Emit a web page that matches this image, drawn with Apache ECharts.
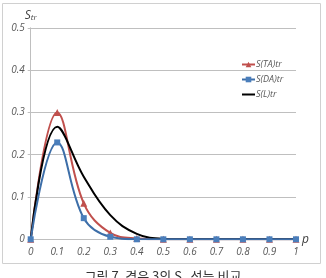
<!DOCTYPE html>
<html>
<head>
<meta charset="utf-8">
<script src="https://cdn.jsdelivr.net/npm/echarts@6/dist/echarts.min.js"></script>
<style>
  html, body { margin: 0; padding: 0; background: #fff; }
  #container { width: 326px; height: 278px; }
</style>
</head>
<body>
<div id="container"></div>
<script>
var dom = document.getElementById("container");
var myChart = echarts.init(dom);

// p values (x axis)
var pValues = [0, 0.1, 0.2, 0.3, 0.4, 0.5, 0.6, 0.7, 0.8, 0.9, 1];
var seriesNames = ["S(TA)tr", "S(DA)tr", "S(L)tr"];
var taValues = [0, 0.30, 0.085, 0.015, 0.002, 0, 0, 0, 0, 0, 0];
var daValues = [0, 0.229, 0.05, 0.006, 0, 0, 0, 0, 0, 0, 0];
var lValues = [0, 0.266, 0.148, 0.057, 0.013, 0.001, 0, 0, 0, 0, 0];

function pairs(vals) {
  return pValues.map(function (p, i) { return [p, vals[i]]; });
}

var labelStyle = { color: "#595959", fontStyle: "italic", fontSize: 10, fontFamily: "Open Sans" };

var option = {
  animation: false,
  grid: { left: 30.7, right: 30, top: 27.8, bottom: 38.7 },
  legend: {
    orient: "vertical",
    left: 236,
    top: 55,
    itemGap: 6,
    itemWidth: 13,
    itemHeight: 7,
    textStyle: { color: "#595959", fontStyle: "italic", fontSize: 9, fontFamily: "Open Sans", padding: [0, 0, 0, -4] },
    data: [
      { name: seriesNames[0] },
      { name: seriesNames[1] },
      { name: seriesNames[2], itemStyle: { color: "rgba(0,0,0,0)", borderWidth: 0 } }
    ]
  },
  xAxis: {
    type: "value",
    min: 0,
    max: 1,
    interval: 0.1,
    name: "p",
    nameLocation: "end",
    nameGap: 6,
    nameTextStyle: { color: "#404040", fontStyle: "italic", fontSize: 12, fontFamily: "Open Sans", padding: [0, 0, 4, 0] },
    axisLine: { show: false },
    axisTick: { show: false },
    splitLine: { show: false },
    axisLabel: Object.assign({ margin: 8, formatter: function (v) { return v === 0 ? "0" : (v === 1 ? "1" : v.toFixed(1)); } }, labelStyle)
  },
  yAxis: {
    type: "value",
    min: 0,
    max: 0.5,
    interval: 0.1,
    name: "{s|S}{t|tr}",
    nameLocation: "end",
    nameGap: 6,
    nameTextStyle: {
      align: "center",
      padding: [0, 0, 0, 0],
      rich: {
        s: { fontSize: 12, fontStyle: "italic", color: "#404040", fontFamily: "Open Sans" },
        t: { fontSize: 8, fontStyle: "italic", color: "#404040", fontFamily: "Open Sans", verticalAlign: "bottom", padding: [4, 0, 0, 0] }
      }
    },
    axisLine: { show: true, lineStyle: { color: "#bfbfbf" } },
    axisTick: { show: true, length: 3, lineStyle: { color: "#bfbfbf" } },
    splitLine: { show: true, lineStyle: { color: "#bfbfbf" } },
    axisLabel: Object.assign({ margin: 6, formatter: function (v) { return v === 0 ? "0" : v.toFixed(1); } }, labelStyle)
  },
  series: [
    {
      name: seriesNames[0],
      type: "line",
      smooth: 0.4,
      data: pairs(taValues),
      symbol: "triangle",
      symbolSize: 7,
      z: 2,
      itemStyle: { color: "#c0504d" },
      lineStyle: { color: "#c0504d", width: 2 }
    },
    {
      name: seriesNames[1],
      type: "line",
      smooth: 0.4,
      data: pairs(daValues),
      symbol: "rect",
      symbolSize: 6,
      z: 4,
      itemStyle: { color: "#4a7ebb" },
      lineStyle: { color: "#3d6ea8", width: 2 }
    },
    {
      name: seriesNames[2],
      type: "line",
      smooth: 0.4,
      data: pairs(lValues),
      showSymbol: false,
      symbol: "none",
      z: 3,
      itemStyle: { color: "#000" },
      lineStyle: { color: "#000", width: 2 }
    }
  ],
  graphic: [
    {
      type: "rect",
      shape: { x: 2.5, y: 3.5, width: 318, height: 260 },
      style: { fill: "none", stroke: "#d0d0d0", lineWidth: 1 },
      silent: true
    },
    {
      type: "text",
      left: "center",
      top: 270,
      style: { text: "그림 7. 경우 3의 S   성능 비교", fill: "#333", fontSize: 13, fontFamily: "Noto Sans CJK KR" }
    }
  ]
};

if (option && typeof option === "object") {
  myChart.setOption(option, true);
}
</script>
</body>
</html>
